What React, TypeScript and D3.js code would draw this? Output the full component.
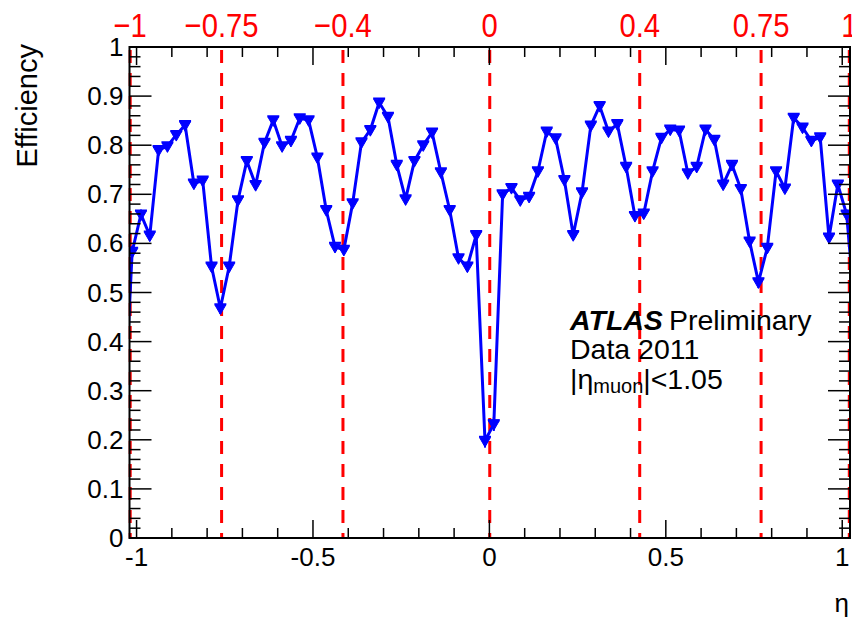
import React from "react";
import * as d3 from "d3";

const etaValues = [
  -1.0375, -1.0125, -0.9875, -0.9625, -0.9375, -0.9125, -0.8875, -0.8625, -0.8375, -0.8125,
  -0.7875, -0.7625, -0.7375, -0.7125, -0.6875, -0.6625, -0.6375, -0.6125, -0.5875, -0.5625,
  -0.5375, -0.5125, -0.4875, -0.4625, -0.4375, -0.4125, -0.3875, -0.3625, -0.3375, -0.3125,
  -0.2875, -0.2625, -0.2375, -0.2125, -0.1875, -0.1625, -0.1375, -0.1125, -0.0875, -0.0625,
  -0.0375, -0.0125, 0.0125, 0.0375, 0.0625, 0.0875, 0.1125, 0.1375, 0.1625, 0.1875,
  0.2125, 0.2375, 0.2625, 0.2875, 0.3125, 0.3375, 0.3625, 0.3875, 0.4125, 0.4375,
  0.4625, 0.4875, 0.5125, 0.5375, 0.5625, 0.5875, 0.6125, 0.6375, 0.6625, 0.6875,
  0.7125, 0.7375, 0.7625, 0.7875, 0.8125, 0.8375, 0.8625, 0.8875, 0.9125, 0.9375,
  0.9625, 0.9875, 1.0125, 1.0375,
];

const efficiency = [
  0.21, 0.583, 0.659, 0.616, 0.79, 0.798, 0.821, 0.841, 0.722, 0.728,
  0.553, 0.468, 0.553, 0.688, 0.768, 0.719, 0.805, 0.851, 0.798, 0.809,
  0.855, 0.851, 0.775, 0.668, 0.593, 0.587, 0.682, 0.806, 0.831, 0.887,
  0.858, 0.76, 0.69, 0.768, 0.8, 0.826, 0.745, 0.668, 0.57, 0.553,
  0.617, 0.198, 0.232, 0.7, 0.713, 0.688, 0.695, 0.747, 0.828, 0.814,
  0.729, 0.617, 0.704, 0.84, 0.88, 0.828, 0.843, 0.756, 0.656, 0.661,
  0.747, 0.815, 0.832, 0.83, 0.743, 0.756, 0.832, 0.811, 0.72, 0.76,
  0.711, 0.604, 0.521, 0.591, 0.747, 0.712, 0.856, 0.836, 0.809, 0.816,
  0.612, 0.72, 0.659, 0.45,
];

const errors = [
  0.01, 0.012, 0.01, 0.01, 0.008, 0.008, 0.008, 0.008, 0.009, 0.009,
  0.01, 0.012, 0.01, 0.009, 0.008, 0.009, 0.008, 0.008, 0.008, 0.008,
  0.008, 0.008, 0.008, 0.009, 0.01, 0.01, 0.009, 0.008, 0.008, 0.007,
  0.008, 0.008, 0.009, 0.008, 0.008, 0.008, 0.008, 0.009, 0.01, 0.01,
  0.01, 0.014, 0.014, 0.009, 0.009, 0.009, 0.009, 0.008, 0.008, 0.008,
  0.009, 0.01, 0.009, 0.008, 0.007, 0.008, 0.008, 0.008, 0.01, 0.01,
  0.008, 0.008, 0.008, 0.008, 0.008, 0.008, 0.008, 0.008, 0.009, 0.008,
  0.009, 0.01, 0.012, 0.01, 0.008, 0.009, 0.008, 0.008, 0.008, 0.008,
  0.01, 0.009, 0.01, 0.01,
];

const yTickLabels = ["0", "0.1", "0.2", "0.3", "0.4", "0.5", "0.6", "0.7", "0.8", "0.9", "1"];
const xTickLabels = ["-1", "-0.5", "0", "0.5", "1"];
const redLinePositions = [-1.018, -0.759, -0.415, 0.001, 0.426, 0.77, 1.02];
const redLineLabels = ["\u22121", "\u22120.75", "\u22120.4", "0", "0.4", "0.75", "1"];

const W = 852;
const H = 617;
const left = 129.5;
const right = 850;
const top = 47;
const bottom = 538;

export default function App() {
  const x = d3.scaleLinear().domain([-1.02, 1.022]).range([left, right]);
  const y = d3.scaleLinear().domain([0, 1]).range([bottom, top]);

  const pts = etaValues.map((e, i) => ({ e, v: efficiency[i], err: errors[i] }));
  const line = d3
    .line<{ e: number; v: number }>()
    .x((d) => x(d.e))
    .y((d) => y(d.v));

  const tri = d3.symbol().type(d3.symbolTriangle).size(50)() as string;

  const yMinor = d3.range(0, 51).map((i) => i / 50);
  const xMinor = d3.range(-10, 11).map((i) => i / 10);
  const font = "Liberation Sans, Arial, Helvetica, sans-serif";

  return (
    <svg
      width={W}
      height={H}
      style={{ position: "absolute", left: 0, top: 0, background: "#fff" }}
      fontFamily={font}
    >
      <defs>
        <clipPath id="frame">
          <rect x={left} y={top} width={right - left} height={bottom - top} />
        </clipPath>
      </defs>

      {/* red dashed lines */}
      {redLinePositions.map((p, i) => (
        <line
          key={"r" + i}
          x1={x(p)}
          x2={x(p)}
          y1={top + 3}
          y2={bottom}
          stroke="#ff0000"
          strokeWidth={3}
          strokeDasharray="13 10"
        />
      ))}

      {/* data */}
      <g clipPath="url(#frame)">
        {pts.map((d, i) => (
          <line
            key={"e" + i}
            x1={x(d.e)}
            x2={x(d.e)}
            y1={y(d.v - d.err)}
            y2={y(d.v + d.err)}
            stroke="#0000ff"
            strokeWidth={2}
          />
        ))}
        <path d={line(pts) as string} fill="none" stroke="#0000ff" strokeWidth={3} strokeLinejoin="round" />
        {pts.map((d, i) => (
          <g key={"m" + i} transform={`translate(${x(d.e)},${y(d.v)})`}>
            <path d={tri} transform="rotate(180)" fill="#0000ff" stroke="#0000ff" strokeWidth={1} />
            <line x1={-6} x2={6} y1={-4} y2={-4} stroke="#0000ff" strokeWidth={2} />
          </g>
        ))}
      </g>

      {/* frame */}
      <rect x={left} y={top} width={right - left} height={bottom - top} fill="none" stroke="#000" strokeWidth={2} />

      {/* y ticks */}
      {yMinor.map((t, i) => {
        const major = i % 5 === 0;
        const len = major ? 22 : 11;
        return (
          <g key={"yt" + i}>
            <line x1={left} x2={left + len} y1={y(t)} y2={y(t)} stroke="#000" strokeWidth={1.5} />
            <line x1={right} x2={right - len} y1={y(t)} y2={y(t)} stroke="#000" strokeWidth={1.5} />
          </g>
        );
      })}
      {yTickLabels.map((lab, i) => (
        <text key={"yl" + i} x={left - 6} y={y(i / 10) + 9} textAnchor="end" fontSize={26} fill="#000">
          {lab}
        </text>
      ))}

      {/* x ticks */}
      {xMinor.map((t, i) => {
        const major = i % 5 === 0;
        const len = major ? 18 : 10;
        return (
          <g key={"xt" + i}>
            <line x1={x(t)} x2={x(t)} y1={bottom} y2={bottom - len} stroke="#000" strokeWidth={1.5} />
            <line x1={x(t)} x2={x(t)} y1={top} y2={top + len} stroke="#000" strokeWidth={1.5} />
          </g>
        );
      })}
      {xTickLabels.map((lab, i) => (
        <text key={"xl" + i} x={x(-1 + i * 0.5)} y={bottom + 28} textAnchor="middle" fontSize={26} fill="#000">
          {lab}
        </text>
      ))}

      {/* top red labels */}
      {redLineLabels.map((lab, i) => (
        <text
          key={"rl" + i}
          transform={`translate(${x(redLinePositions[i])},37) scale(0.86,1)`}
          textAnchor="middle"
          fontSize={34}
          fill="#ff0000"
        >
          {lab}
        </text>
      ))}

      {/* axis titles */}
      <text transform="translate(37,44) rotate(-90)" textAnchor="end" fontSize={29} fill="#000">
        Efficiency
      </text>
      <text x={849} y={612} textAnchor="end" fontSize={26} fill="#000">
        η
      </text>

      {/* ATLAS label */}
      <text x={570} y={330} fontSize={28.5} fill="#000">
        <tspan fontWeight="bold" fontStyle="italic">ATLAS</tspan>
        <tspan dx={6}>Preliminary</tspan>
      </text>
      <text x={570} y={359} fontSize={28.5} fill="#000">
        Data 2011
      </text>
      <text x={570} y={389} fontSize={28.5} fill="#000">
        |η<tspan fontSize={20} dy={4}>muon</tspan>
        <tspan dy={-4}>|&lt;1.05</tspan>
      </text>
    </svg>
  );
}
